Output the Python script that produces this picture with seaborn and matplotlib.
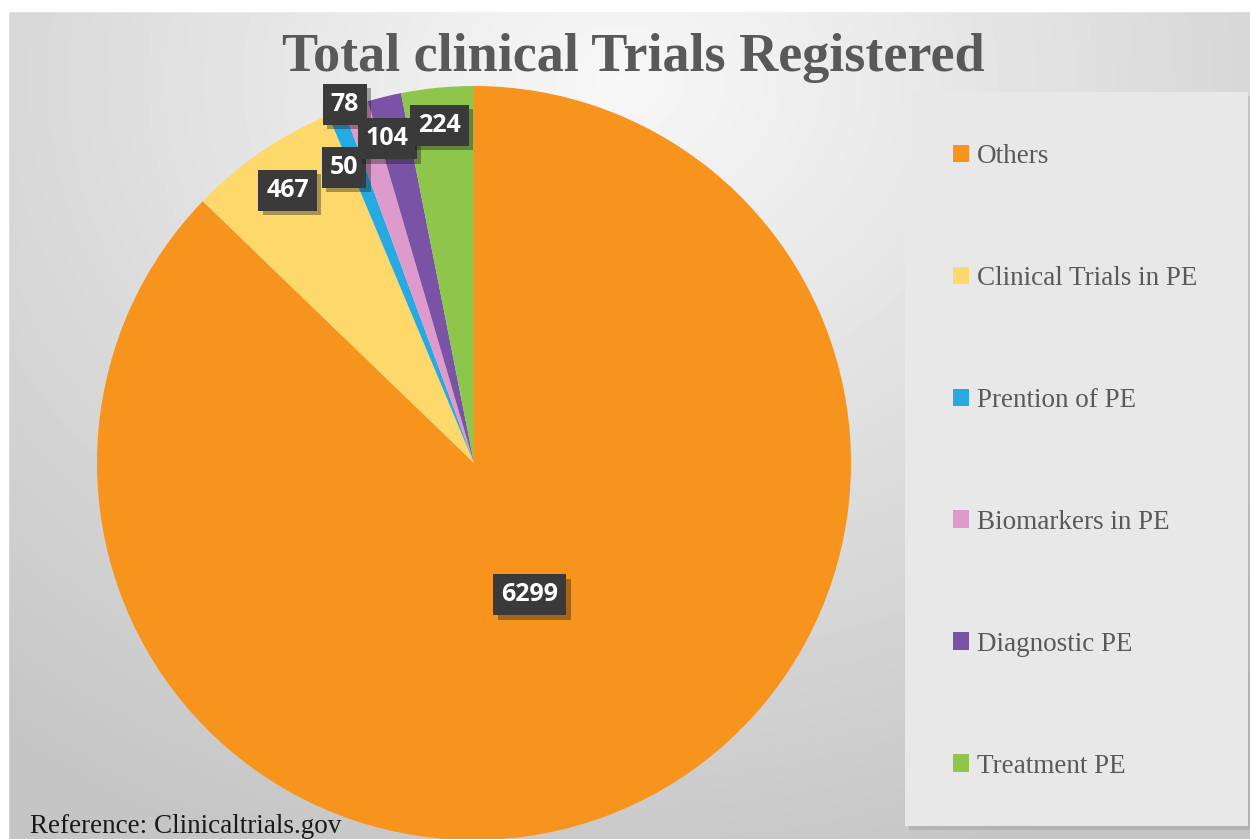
import numpy as np
import matplotlib
matplotlib.use("Agg")
import matplotlib.pyplot as plt
import matplotlib.patheffects as pe
from matplotlib.patches import Rectangle
import seaborn as sns

# ==========================================
# Data
# ==========================================

categories = ["Others", "Clinical Trials in PE", "Prention of PE",
              "Biomarkers in PE", "Diagnostic PE", "Treatment PE"]
trials = [6299, 467, 50, 78, 104, 224]

slice_colors = ["#F7941E", "#FDD86B", "#27AAE1", "#DE9ACA", "#7A52A6", "#8DC64B"]

# label placement: radius (fraction of pie radius) and angle nudge (deg)
label_radius = [0.38, 0.875, 0.857, 1.01, 0.89, 0.9]
label_nudge = [0, 0, 2.2, 1.5, 1.2, 0.2]

# ==========================================
# Style
# ==========================================

sns.set_theme(style="white")
plt.rcParams["font.family"] = ["Liberation Serif", "DejaVu Serif"]

fig = plt.figure(figsize=(12.5, 8.39), dpi=100)

# gradient background
bg = fig.add_axes([0, 0, 1, 1], zorder=-10)
yy, xx = np.mgrid[0:839, 0:1250]
dist = np.hypot((xx - 620) / 950, (yy - 80) / 800)
shade = np.clip(0.97 - 0.19 * dist, 0.77, 1.0)
bg.imshow(shade, cmap="gray", vmin=0, vmax=1, extent=[0, 1250, 839, 0], aspect="auto")
bg.set_xlim(0, 1250)
bg.set_ylim(839, 0)
bg.axis("off")
bg.add_patch(Rectangle((0, 0), 1250, 11, color="white", zorder=2))
bg.add_patch(Rectangle((0, 0), 8, 839, color="white", zorder=2))

# legend panel
panel = Rectangle((0.724, 0.0155), 0.2744, 0.8749, transform=fig.transFigure,
                  facecolor="#e8e8e8", edgecolor="none", zorder=-5)
panel.set_path_effects([pe.withSimplePatchShadow(offset=(3, -3), alpha=0.15)])
fig.patches.append(panel)

# ==========================================
# Pie
# ==========================================

ax = fig.add_axes([0.0776, -0.0012, 0.6032, 0.8987])
wedges, _ = ax.pie(trials, colors=slice_colors, startangle=90,
                   counterclock=False, radius=1,
                   wedgeprops=dict(linewidth=0, edgecolor="none"))
ax.set_xlim(-1, 1)
ax.set_ylim(-1, 1)
ax.set_aspect("equal")
ax.axis("off")

for w, n, r, nudge in zip(wedges, trials, label_radius, label_nudge):
    ang = np.deg2rad((w.theta1 + w.theta2) / 2 + nudge)
    t = ax.text(r * np.cos(ang), r * np.sin(ang), str(n),
                ha="center", va="center", color="white",
                fontsize=18, fontweight="bold",
                family=["Open Sans", "DejaVu Sans"],
                bbox=dict(boxstyle="square,pad=0.32", fc="#3a3a3a", ec="none"),
                zorder=5)
    t.get_bbox_patch().set_path_effects(
        [pe.withSimplePatchShadow(offset=(3, -3), alpha=0.35)])

# ==========================================
# Legend and text
# ==========================================

fig.legend(wedges, categories, loc="upper left", bbox_to_anchor=(0.7512, 0.8448),
           frameon=False, fontsize=19.5, handlelength=0.6, handleheight=0.6,
           handletextpad=0.3, labelspacing=3.58, borderpad=0,
           labelcolor="#595959")

fig.text(0.5064, 0.931, "Total clinical Trials Registered", ha="center", va="center",
         fontsize=39, fontweight="bold", color="#595959")

fig.text(0.024, 0.007, "Reference: Clinicaltrials.gov", ha="left", va="baseline",
         fontsize=19.5, color="#1a1a1a", zorder=10)

fig.savefig("out.png", dpi=100)
